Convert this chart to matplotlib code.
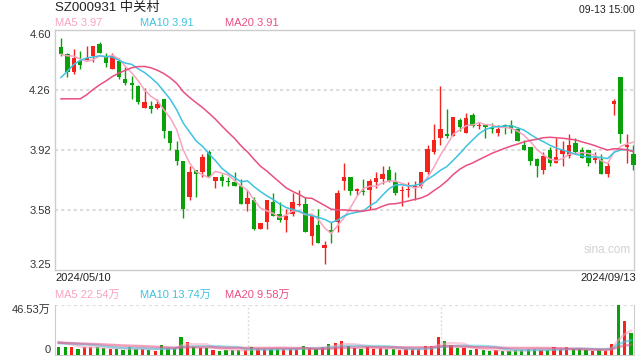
import numpy as np
import pandas as pd
import matplotlib.pyplot as plt

plt.rcParams['font.family'] = ['Liberation Sans', 'Noto Sans CJK SC', 'DejaVu Sans']

#%% data: SZ000931 daily bars 2024/05/10 - 2024/09/13

opens = [4.50, 4.46, 4.36, 4.42, 4.43, 4.45, 4.52, 4.45, 4.38, 4.42,
         4.32, 4.30, 4.28, 4.16, 4.17, 4.16, 4.21, 4.03, 3.92, 3.86,
         3.66, 3.81, 3.80, 3.91, 3.75, 3.77, 3.75, 3.74, 3.72, 3.62,
         3.64, 3.48, 3.52, 3.63, 3.56, 3.53, 3.56, 3.615, 3.62, 3.44,
         3.50, 3.37, 3.47, 3.52, 3.75, 3.77, 3.69, 3.69, 3.70, 3.74,
         3.76, 3.81, 3.74, 3.69, 3.70, 3.715, 3.72, 3.80, 3.91, 3.99,
         4.01, 4.00, 4.09, 4.02, 4.12, 4.06, 4.06, 4.05, 4.02, 4.065,
         4.065, 4.04, 3.95, 3.94, 3.87, 3.81, 3.92, 3.85, 3.90, 3.89,
         3.96, 3.92, 3.92, 3.865, 3.87, 3.79, 4.18, 4.33, 3.94, 3.90]
highs = [4.55, 4.47, 4.49, 4.48, 4.51, 4.51, 4.53, 4.47, 4.47, 4.44,
         4.39, 4.34, 4.29, 4.27, 4.20, 4.21, 4.21, 4.03, 3.97, 3.86,
         3.83, 3.81, 3.90, 3.92, 3.77, 3.79, 3.77, 3.80, 3.76, 3.70,
         3.66, 3.51, 3.64, 3.68, 3.63, 3.59, 3.68, 3.70, 3.66, 3.55,
         3.59, 3.41, 3.52, 3.70, 3.85, 3.77, 3.71, 3.76, 3.76, 3.80,
         3.83, 3.835, 3.80, 3.72, 3.74, 3.75, 3.80, 3.95, 4.07, 4.28,
         4.15, 4.11, 4.10, 4.13, 4.13, 4.08, 4.065, 4.075, 4.065, 4.07,
         4.09, 4.05, 3.98, 3.94, 3.88, 3.91, 3.94, 3.99, 3.97, 4.01,
         3.99, 3.94, 3.92, 3.91, 3.90, 3.85, 4.21, 4.33, 4.01, 3.95]
lows = [4.45, 4.33, 4.35, 4.38, 4.43, 4.42, 4.47, 4.39, 4.38, 4.32,
        4.29, 4.21, 4.18, 4.16, 4.13, 4.15, 3.99, 3.92, 3.84, 3.54,
        3.64, 3.66, 3.77, 3.77, 3.71, 3.72, 3.72, 3.72, 3.62, 3.58,
        3.47, 3.48, 3.48, 3.55, 3.52, 3.46, 3.55, 3.61, 3.46, 3.39,
        3.40, 3.28, 3.40, 3.46, 3.70, 3.67, 3.67, 3.67, 3.59, 3.71,
        3.73, 3.74, 3.67, 3.61, 3.66, 3.64, 3.71, 3.79, 3.90, 3.95,
        3.99, 4.00, 4.03, 4.02, 4.05, 4.04, 3.99, 4.02, 4.00, 4.01,
        4.02, 3.97, 3.92, 3.84, 3.77, 3.79, 3.83, 3.85, 3.83, 3.88,
        3.90, 3.88, 3.83, 3.85, 3.79, 3.77, 4.12, 3.96, 3.85, 3.81]
closes = [4.46, 4.36, 4.44, 4.40, 4.44, 4.51, 4.47, 4.41, 4.45, 4.33,
          4.30, 4.29, 4.19, 4.19, 4.15, 4.18, 4.03, 3.96, 3.86, 3.59,
          3.80, 3.79, 3.88, 3.77, 3.77, 3.75, 3.74, 3.72, 3.62, 3.65,
          3.48, 3.51, 3.64, 3.55, 3.53, 3.55, 3.63, 3.62, 3.46, 3.55,
          3.40, 3.39, 3.46, 3.68, 3.77, 3.69, 3.70, 3.685, 3.75, 3.765,
          3.79, 3.75, 3.68, 3.69, 3.70, 3.72, 3.80, 3.93, 3.98, 4.04,
          4.00, 4.105, 4.05, 4.10, 4.06, 4.065, 4.05, 4.04, 4.04, 4.05,
          4.04, 3.97, 3.925, 3.86, 3.83, 3.89, 3.85, 3.88, 3.92, 3.95,
          3.91, 3.88, 3.85, 3.88, 3.79, 3.83, 4.20, 4.01, 3.95, 3.84]
# volume, 万手
volumes = [7.8, 7.8, 7.8, 5.9, 7.1, 7.1, 7.8, 6.5, 5.6, 5.6,
           4.6, 7.4, 5.6, 5.6, 4.6, 3.7, 9.3, 6.8, 6.2, 16.7,
           12.1, 7.8, 6.5, 6.8, 4.6, 3.7, 5.0, 4.6, 4.3, 4.3,
           7.4, 5.6, 5.6, 5.6, 5.6, 5.6, 5.9, 5.6, 8.4, 6.2,
           5.9, 7.8, 10.2, 11.5, 13.0, 8.7, 6.5, 5.6, 7.8, 5.6,
           6.2, 5.6, 5.6, 4.6, 5.6, 5.3, 5.6, 8.4, 8.4, 16.7,
           13.0, 9.3, 6.5, 6.5, 4.6, 5.6, 4.6, 4.0, 4.3, 3.7,
           3.9, 4.2, 4.8, 5.8, 5.8, 4.5, 4.8, 7.3, 5.8, 7.3,
           5.7, 5.7, 4.7, 3.9, 4.75, 3.9, 10.2, 46.53, 31.25, 20.8]

# bars before the window, only used to seed the moving averages
prev_closes = [4.36, 4.44, 4.40, 3.98, 3.92, 3.95, 3.97, 3.94, 3.96, 3.98,
               4.01, 4.05, 4.18, 4.30, 4.46, 4.40, 4.45, 4.48, 4.51]
prev_volumes = [12, 12, 12, 12, 12, 12, 12, 12, 12, 12,
                10, 10, 10, 10, 10.2, 13, 13, 13, 13]

price_ticks = ['3.25', '3.58', '3.92', '4.26', '4.60']
vol_top_label = '46.53万'

#%% moving averages

n = len(closes)
c_all = pd.Series(prev_closes + closes)
v_all = pd.Series(prev_volumes + volumes)
ma = {k: c_all.rolling(k).mean().values[-n:] for k in (5, 10, 20)}
vma = {k: v_all.rolling(k).mean().values[-n:] for k in (5, 10, 20)}

RED = '#f4231c'
GREEN = '#0aa00a'
MA_COL = {5: '#f8a3c0', 10: '#3ec3e0', 20: '#ea4f80'}
GRID = '#dcdcdc'
EDGE = '#cccccc'

W, H = 640, 360
fig = plt.figure(figsize=(6.4, 3.6), dpi=100)
ax = fig.add_axes([55 / W, 1 - 269.5 / H, 579 / W, 240 / H])
axv = fig.add_axes([55 / W, 1 - 355 / H, 579 / W, 50 / H])

x = np.arange(n)
o = np.array(opens); c = np.array(closes)
up = c >= o
cols = np.where(up, RED, GREEN)

#%% candles
ax.vlines(x, lows, highs, colors=cols, lw=1.0, zorder=3)
body_lo = np.minimum(o, c)
body_h = np.maximum(np.abs(c - o), 0.005)
ax.bar(x, body_h, bottom=body_lo, width=0.68, color=cols, lw=0, zorder=4, clip_on=False)

for k in (5, 10, 20):
    ax.plot(x, ma[k], color=MA_COL[k], lw=1.1, zorder=5)

lo, hi = 3.25, 4.60
ax.set_ylim(lo, hi)
ax.set_xlim(-0.93, n - 1 + 0.1)
tpos = np.linspace(lo, hi, len(price_ticks))
for t in tpos[1:-1]:
    ax.axhline(t, color=GRID, lw=1.5, ls=(0, (1.5, 1.5)), zorder=1)
ax.set_yticks(tpos)
ax.set_yticklabels(price_ticks)
ax.set_xticks([])
ax.tick_params(axis='y', length=0, pad=3, labelsize=8, labelcolor='#333333')
labs = ax.get_yticklabels()
labs[0].set_va('bottom')
labs[-1].set_va('top')
for s in ax.spines.values():
    s.set_color(EDGE)
    s.set_linewidth(1.0)

ax.text(0.995, 0.08, 'sina.com', transform=ax.transAxes, ha='right', va='center',
        fontsize=8.5, color='#d2d2d2')

#%% volume
axv.bar(x - 0.35, volumes, width=0.5, color=cols, lw=0, zorder=3)
for k in (5, 10, 20):
    axv.plot(x - 0.35, vma[k], color=MA_COL[k], lw=1.8, alpha=0.55, zorder=4)
axv.set_xlim(-0.93, n - 1 + 0.1)
axv.set_ylim(0, max(volumes))
axv.axhline(max(volumes), color=GRID, lw=1.5, ls=(0, (1.5, 1.5)), zorder=1)
for f in (1 / 3, 2 / 3):
    axv.axvline(-0.93 + f * (n - 1 + 0.1 + 0.93), color=GRID, lw=1.0, ls=(0, (1.5, 1.5)), zorder=1)
axv.set_yticks([0, max(volumes)])
axv.set_yticklabels(['0', vol_top_label])
axv.set_xticks([])
axv.tick_params(axis='y', length=0, pad=3, labelsize=8, labelcolor='#333333')
vl = axv.get_yticklabels()
vl[0].set_va('bottom')
vl[1].set_va('top')
axv.spines['top'].set_visible(False)
for s in ('left', 'right', 'bottom'):
    axv.spines[s].set_color(EDGE)

#%% header texts
def px(xp, yp):
    return xp / W, 1 - yp / H

fig.text(*px(55, 8), 'SZ000931 中关村', fontsize=9.5, color='#222222', va='center')
fig.text(*px(635, 10), '09-13 15:00', fontsize=7.5, color='#222222', va='center', ha='right')
for xp, k in ((55, 5), (140, 10), (225, 20)):
    fig.text(*px(xp, 23.5), f'MA{k} {ma[k][-1]:.2f}', fontsize=8, color=MA_COL[k], va='center')
    fig.text(*px(xp, 295), f'MA{k} {vma[k][-1]:.2f}万', fontsize=8, color=MA_COL[k], va='center')
fig.text(*px(55, 278), '2024/05/10', fontsize=8, color='#222222', va='center')
fig.text(*px(636, 278), '2024/09/13', fontsize=8, color='#222222', va='center', ha='right')

plt.savefig('out.png', dpi=100)
plt.close()
